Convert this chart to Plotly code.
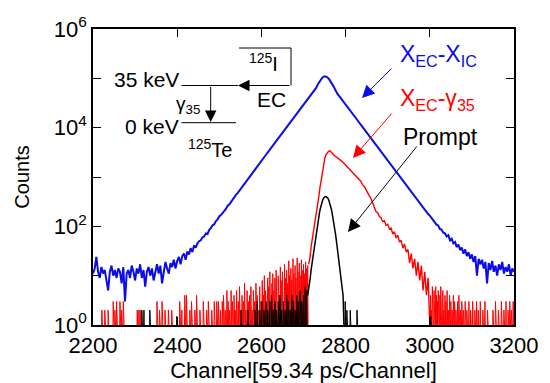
import numpy as np
import plotly.graph_objects as go

# ---------------- data ----------------
# X_EC - X_IC (blue)
blue_left_ch = list(range(2200, 2560, 4))
blue_left = [11, 14, 24, 12, 9, 15, 11, 13, 8, 5,
             12, 16, 10, 13, 9, 14, 12, 7, 15, 3,
             11, 13, 9, 16, 12, 8, 14, 11, 17, 9,
             13, 6, 12, 15, 10, 14, 8, 13, 17, 11,
             16, 7, 13, 19, 14, 11, 18, 15, 21, 14,
             20, 24, 17, 25, 28, 21, 31, 27, 36, 30,
             41, 37, 45, 50, 52, 60, 62, 72, 70, 85,
             92, 105, 110, 128, 138, 160, 170, 192, 205, 228,
             262, 280, 318, 345, 385, 440, 475, 530, 590, 650]
blue_mid_ch = [2560, 2570, 2580, 2590, 2600, 2610, 2620, 2630, 2640, 2650,
               2660, 2670, 2680, 2690, 2700, 2710, 2720, 2730, 2735, 2740,
               2745, 2750, 2755, 2760, 2765, 2770, 2780, 2790, 2800, 2810,
               2820, 2830, 2840, 2850, 2860, 2870, 2880, 2890, 2900, 2910,
               2920, 2930, 2940]
blue_mid = [745, 965, 1260, 1630, 2120, 2760, 3600, 4690, 6100, 7950,
            10350, 13500, 17600, 22900, 29800, 38500, 49000, 64000, 78000, 92000,
            104000, 110000, 107000, 98000, 86000, 72000, 49500, 38500, 29800, 22900,
            17600, 13500, 10350, 7950, 6100, 4690, 3600, 2760, 2120, 1630,
            1260, 965, 745]
blue_right_ch = list(range(2944, 3201, 4))
blue_right = [670, 600, 560, 490, 450, 400, 360, 335, 290, 270,
              238, 220, 195, 178, 165, 148, 132, 125, 108, 104,
              88, 86, 74, 72, 62, 66, 52, 56, 45, 48,
              38, 43, 33, 37, 28, 34, 25, 30, 22, 27,
              19, 25, 10, 22, 17, 21, 14, 19, 7, 18,
              13, 20, 12, 16, 10, 17, 13, 19, 11, 15,
              12, 17, 10, 14, 12]

# X_EC - gamma35 (red): isolated noise channels and the peak
red_spike_ch = [2221, 2228, 2236, 2248, 2252, 2256, 2264, 2268, 2272, 2305,
                2309, 2312, 2352, 2358, 2364, 2371, 2379, 2387, 2406, 2411,
                2418, 2422, 2430, 2434, 2442, 2446, 2454, 2462, 2470, 2474,
                2482, 2488, 2494, 2498,
                2503, 2507, 2510, 2514, 2518, 2521, 2524, 2528, 2531, 2535,
                2538, 2541, 2545, 2548, 2551, 2554, 2557, 2560, 2563, 2566,
                2569, 2572, 2575, 2578, 2581, 2584, 2587, 2590, 2593, 2596, 2599,
                2602, 2605, 2607, 2610, 2612, 2615, 2617, 2620, 2622, 2625,
                2627, 2630, 2632, 2635, 2637, 2640, 2642, 2645, 2647, 2650,
                2652, 2655, 2657, 2660, 2662, 2665, 2667, 2670, 2672, 2675,
                2677, 2680, 2682, 2685, 2687, 2690, 2692, 2695, 2697, 2700,
                2702, 2705, 2707, 2710,
                3002, 3004, 3006, 3008, 3010, 3012, 3014, 3016, 3018, 3020,
                3022, 3024, 3026, 3028, 3031, 3033, 3036, 3038, 3041, 3044,
                3047, 3050, 3053, 3056, 3059, 3062, 3066, 3069, 3073, 3076,
                3080, 3084, 3088, 3093, 3097, 3102, 3107, 3111, 3115, 3120,
                3126, 3131, 3137, 3150, 3156, 3163, 3170, 3176, 3181, 3186,
                3190, 3194, 3198]
red_spike_counts = [2, 2, 2, 3, 2, 3, 3, 2, 3, 2,
                    2, 2, 3, 2, 3, 2, 2, 2, 3, 2,
                    4, 4, 2, 3, 2, 4, 2, 3, 2, 3,
                    2, 3, 3, 3,
                    2, 3, 4, 2, 5, 3, 2, 5, 3, 4,
                    2, 5, 3, 6, 2, 4, 3, 7, 2, 5,
                    3, 4, 6, 2, 5, 3, 7, 4, 2, 6, 3,
                    8, 4, 10, 5, 3, 9, 6, 12, 4, 7,
                    11, 5, 9, 13, 6, 10, 4, 15, 8, 12,
                    6, 17, 9, 13, 7, 20, 10, 14, 8, 22,
                    11, 16, 9, 23, 12, 18, 10, 21, 13, 17,
                    11, 19, 14, 16,
                    4, 2, 6, 3, 5, 2, 6, 4, 3, 5,
                    2, 4, 6, 3, 5, 2, 4, 3, 5, 2,
                    4, 3, 2, 4, 3, 2, 3, 4, 2, 3,
                    2, 3, 2, 3, 2, 3, 2, 3, 2, 3,
                    2, 3, 2, 2, 3, 2, 3, 2, 3, 2,
                    3, 2, 3]
red_peak_ch = list(range(2712, 2770, 3)) + list(range(2772, 3001, 4))
red_peak = [17, 22, 38, 55, 80, 110, 150, 240, 380, 600,
            900, 1400, 1950, 2500, 2900, 3200, 3350, 3400, 3250, 3000,
            2800, 2650, 2500, 2350, 2200, 2050, 1900, 1750, 1600, 1450,
            1350, 1250, 1150, 1050, 960, 900, 820, 700, 650, 560,
            500, 420, 370, 300, 260, 200, 190, 160, 150, 125,
            130, 105, 110, 88, 92, 70, 78, 58, 66, 48,
            52, 36, 44, 30, 34, 18, 28, 14, 22, 10,
            19, 8, 16, 5, 12, 4, 9, 1]

# Prompt (black)
black_spike_ch = [2316, 2321, 2335, 2399, 2552, 2568, 2585, 2590, 2596, 2601,
                  2606, 2611, 2615, 2620, 2624, 2628, 2632, 2636, 2640, 2644,
                  2648, 2652, 2656, 2660, 2664, 2668, 2672, 2676, 2680, 2684,
                  2688, 2692, 2696, 2700, 2704, 2707,
                  2799, 2803, 2811, 2827, 3002]
black_spike_counts = [2, 2, 2, 1.5, 2, 2, 2, 3, 2, 3,
                      2, 3, 2, 3, 4, 2, 3, 2, 3, 4,
                      2, 3, 2, 4, 3, 2, 4, 3, 2, 4,
                      3, 5, 3, 4, 6, 5,
                      3, 2, 2, 2, 1.5]
black_peak_ch = list(range(2710, 2797, 2))
black_peak = [4, 5, 7, 9, 13, 17, 24, 33, 45, 60,
              78, 98, 122, 155, 190, 230, 272, 312, 348, 376,
              394, 402, 400, 390, 370, 340, 305, 265, 225, 185,
              150, 118, 92, 70, 52, 38, 28, 22, 17, 13,
              8, 6, 4, 1]

x_tickvals = [2200, 2400, 2600, 2800, 3000, 3200]
y_tickvals = [1, 10, 100, 1e3, 1e4, 1e5, 1e6]
y_ticktext = ['10<sup>0</sup>', '', '10<sup>2</sup>', '', '10<sup>4</sup>', '', '10<sup>6</sup>']

# ---------------- build ----------------
FONT = 'Liberation Sans, Arial, sans-serif'
EMPTY = 0.5   # empty channels: drawn below the axis floor (log scale)


def spike_hist(chs, counts, lo, hi, gap_lo, gap_hi):
    grid = np.arange(lo, hi + 1)
    vals = np.zeros(len(grid))
    for c, n in zip(chs, counts):
        vals[c - lo] = n
    y = np.where(vals > 0, vals, EMPTY).astype(object)
    y[(grid > gap_lo) & (grid < gap_hi)] = None
    return grid, y


blue_ch = blue_left_ch + blue_mid_ch + blue_right_ch
blue = blue_left + blue_mid + blue_right
assert len(blue_ch) == len(blue)
assert len(red_spike_ch) == len(red_spike_counts)
assert len(red_peak_ch) == len(red_peak), (len(red_peak_ch), len(red_peak))
assert len(black_spike_ch) == len(black_spike_counts)
assert len(black_peak_ch) == len(black_peak), (len(black_peak_ch), len(black_peak))

red_nx, red_ny = spike_hist(red_spike_ch, red_spike_counts, 2200, 3200, 2711, 3001)
blk_nx, blk_ny = spike_hist(black_spike_ch, black_spike_counts, 2200, 3200, 2709, 2797)

BLUE = '#0c0ce6'
RED = '#ff0000'

fig = go.Figure()
fig.add_trace(go.Scatter(x=blue_ch, y=blue, mode='lines',
                         line=dict(color=BLUE, width=2), showlegend=False))
fig.add_trace(go.Scatter(x=red_nx, y=red_ny, mode='lines',
                         line=dict(color=RED, width=1), showlegend=False))
fig.add_trace(go.Scatter(x=red_peak_ch, y=red_peak, mode='lines',
                         line=dict(color=RED, width=1.4), showlegend=False))
fig.add_trace(go.Scatter(x=blk_nx, y=blk_ny, mode='lines',
                         line=dict(color='black', width=1), showlegend=False))
fig.add_trace(go.Scatter(x=black_peak_ch, y=black_peak, mode='lines',
                         line=dict(color='black', width=1.5), showlegend=False))

axis_common = dict(showline=True, linecolor='black', linewidth=1.5, mirror='ticks',
                   ticks='inside', ticklen=8, tickwidth=1, tickcolor='black',
                   showgrid=False, zeroline=False, automargin=False,
                   tickfont=dict(family=FONT, size=22, color='black'))

fig.update_xaxes(range=[2200, 3200], tickvals=x_tickvals,
                 title=dict(text='Channel[59.34 ps/Channel]', standoff=6,
                            font=dict(family=FONT, size=22, color='black')),
                 **axis_common)
fig.update_yaxes(type='log', range=[0, 6], tickvals=y_tickvals, ticktext=y_ticktext,
                 title=dict(text='Counts', standoff=19,
                            font=dict(family=FONT, size=20, color='black')),
                 **axis_common)

# ---- annotations: legend-like labels with arrows ----
ann = []


def label(text, x, y, color, size=23, xanchor='left'):
    ann.append(dict(text=text, x=x, y=y, xref='paper', yref='paper',
                    xanchor=xanchor, yanchor='middle', showarrow=False,
                    font=dict(family=FONT, size=size, color=color)))


def arrow(xtip, ytip, ax, ay, color, size=2.5):
    ann.append(dict(text='', x=xtip, y=ytip, xref='paper', yref='paper',
                    ax=ax, ay=ay, axref='pixel', ayref='pixel', showarrow=True,
                    arrowhead=2, arrowsize=size, arrowwidth=1, arrowcolor=color,
                    standoff=0, startstandoff=0))


W, H = 421.0, 296.0
def px(sx):
    return (sx - 93) / W
def py(sy):
    return (325 - sy) / H


label('X<sub>EC</sub>-X<sub>IC</sub>', px(398), py(55), BLUE)
label('X<sub>EC</sub>-γ<sub>35</sub>', px(398), py(99), RED)
label('Prompt', px(401), py(137), 'black')
arrow(px(362), py(98), 31, -31, BLUE)
arrow(px(353), py(158), 40, -46, RED)
arrow(px(348), py(232), 70, -87, 'black')

# ---- decay scheme ----
label('35 keV', px(181), py(80), 'black', size=21, xanchor='right')
label('0 keV', px(181), py(127), 'black', size=21, xanchor='right')
label('γ<sub>35</sub>', px(174), py(105), 'black', size=19)
label('<sup>125</sup>Te', px(186), py(148), 'black', size=20)
label('<sup>125</sup>I', px(247), py(62), 'black', size=20)
label('EC', px(255), py(99), 'black', size=21)
arrow(px(238), py(85.5), 53, 0, 'black', size=2.3)
arrow(px(210.7), py(122), 0, -36.5, 'black', size=2.3)

shapes = []
def seg(x0, y0, x1, y1):
    shapes.append(dict(type='line', xref='paper', yref='paper',
                       x0=px(x0), y0=py(y0), x1=px(x1), y1=py(y1),
                       line=dict(color='black', width=1)))

seg(181.5, 85.5, 238, 85.5)
seg(291, 85.5, 291, 48)
seg(239, 48, 291, 48)
seg(181.5, 122.7, 236, 122.7)

fig.update_layout(width=550, height=383,
                  margin=dict(l=93, r=36, t=29, b=58, autoexpand=False),
                  paper_bgcolor='white', plot_bgcolor='white',
                  annotations=ann, shapes=shapes,
                  font=dict(family=FONT, color='black'))

fig.write_html('out.html', config={'displayModeBar': False},
               post_script="document.body.style.margin='0';document.body.style.overflow='hidden';")
